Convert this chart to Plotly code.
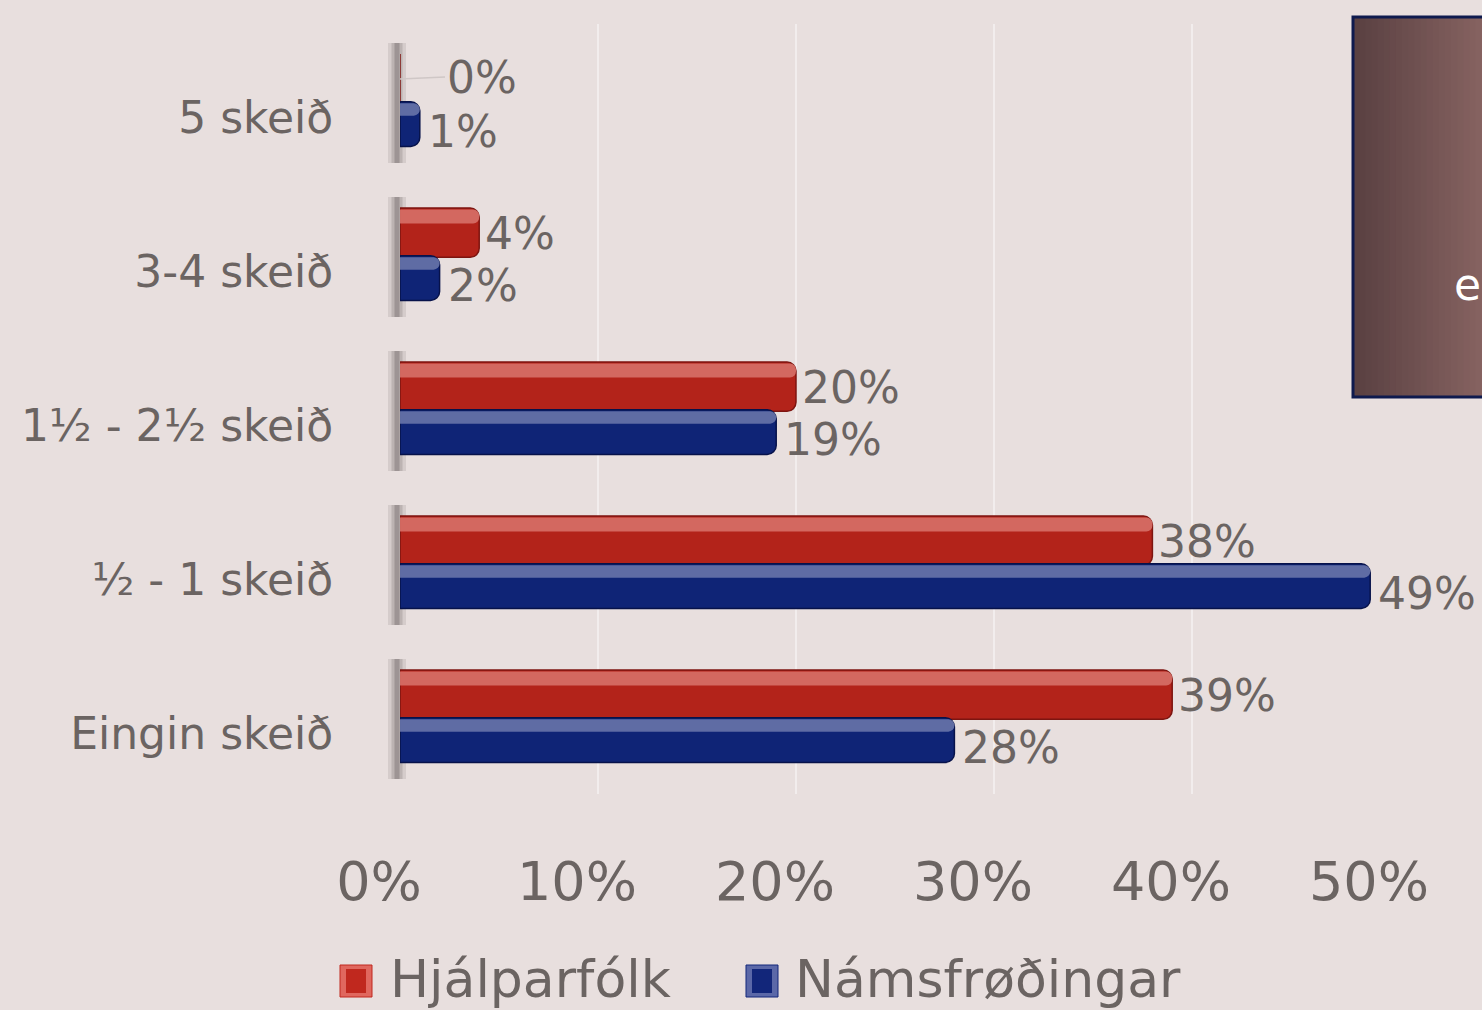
import plotly.graph_objects as go

# ---- data ----
categories = ["5 skeið", "3-4 skeið", "1½ - 2½ skeið", "½ - 1 skeið", "Eingin skeið"]
hjalparfolk = [0, 4, 20, 38, 39]
namsfrodingar = [1, 2, 19, 49, 28]
series_names = ["Hjálparfólk", "Námsfrøðingar"]
x_ticks = [0, 10, 20, 30, 40, 50]
x_tick_labels = ["0%", "10%", "20%", "30%", "40%", "50%"]
box_text = "e"

# ---- style ----
BG = "#e8dfde"
TXT = "#6b6462"
FONT = "DejaVu Sans"
W, H = 1482, 1010
L, R, T, B = 400, 1390, 24, 794


def px(x):
    return (x - L) / (R - L)


def py(y):
    return (B - y) / (B - T)


fig = go.Figure()

# main bars
fig.add_trace(go.Bar(
    y=categories, x=hjalparfolk, orientation="h", name=series_names[0],
    offset=-0.305, width=0.32,
    marker=dict(color="#b3231a", line=dict(color="#7d1510", width=1.5), cornerradius=9),
))
fig.add_trace(go.Bar(
    y=categories, x=namsfrodingar, orientation="h", name=series_names[1],
    offset=0.005, width=0.29,
    marker=dict(color="#0f2476", line=dict(color="#07124a", width=1.5), cornerradius=9),
))
# highlight bands (3D sheen)
fig.add_trace(go.Bar(
    y=categories, x=hjalparfolk, orientation="h", offset=-0.295, width=0.09,
    marker=dict(color="rgba(214,112,104,0.9)", line=dict(width=0), cornerradius=6),
    hoverinfo="skip", showlegend=False,
))
fig.add_trace(go.Bar(
    y=categories, x=namsfrodingar, orientation="h", offset=0.015, width=0.08,
    marker=dict(color="rgba(104,116,170,0.9)", line=dict(width=0), cornerradius=6),
    hoverinfo="skip", showlegend=False,
))

shapes = []
annotations = []

# data labels
LBL = dict(size=44, color=TXT, family=FONT)
for cat, v in zip(categories, hjalparfolk):
    if v == 0:
        annotations.append(dict(x=v, y=cat, xref="x", yref="y", text=f"{v}%",
                                showarrow=True, arrowhead=0, arrowwidth=1.5,
                                arrowcolor="#cfc7c6", ax=45, ay=-2, yshift=22,
                                xanchor="left", yanchor="middle", font=LBL))
    else:
        annotations.append(dict(x=v, y=cat, xref="x", yref="y", text=f"{v}%",
                                showarrow=False, xanchor="left", yanchor="middle",
                                xshift=4, yshift=22, font=LBL))
for cat, v in zip(categories, namsfrodingar):
    annotations.append(dict(x=v, y=cat, xref="x", yref="y", text=f"{v}%",
                            showarrow=False, xanchor="left", yanchor="middle",
                            xshift=6, yshift=-30, font=LBL))

# soft shadow at bar bases
for i in range(len(categories)):
    cy = 101 + 154 * i
    for w, a in [(18, 0.10), (11, 0.15), (5, 0.22)]:
        shapes.append(dict(type="rect", xref="paper", yref="paper",
                           x0=px(397 - w / 2), x1=px(397 + w / 2),
                           y0=py(cy + 62), y1=py(cy - 58),
                           fillcolor=f"rgba(50,40,40,{a})", line=dict(width=0), layer="below"))

# right side box with gradient
bx0, bx1, by0, by1 = 1353, 1500, 17, 397
n = 24
c0 = (0x5a, 0x41, 0x42)
c1 = (0x8c, 0x67, 0x65)
for k in range(n):
    t = k / (n - 1)
    c = tuple(int(a + (b - a) * t) for a, b in zip(c0, c1))
    x0 = bx0 + (bx1 - bx0) * k / n
    x1 = bx0 + (bx1 - bx0) * (k + 1) / n + 1
    shapes.append(dict(type="rect", xref="paper", yref="paper",
                       x0=px(x0), x1=px(x1), y0=py(by1), y1=py(by0),
                       fillcolor="rgb(%d,%d,%d)" % c, line=dict(width=0), layer="above"))
shapes.append(dict(type="rect", xref="paper", yref="paper",
                   x0=px(bx0), x1=px(bx1), y0=py(by1), y1=py(by0),
                   fillcolor="rgba(0,0,0,0)", line=dict(color="#0e1a4e", width=3), layer="above"))
annotations.append(dict(xref="paper", yref="paper", x=px(1452), y=py(285),
                        xanchor="left", yanchor="middle", showarrow=False,
                        text=box_text, font=dict(size=44, color="white", family=FONT)))

# manual legend
leg = [(340, "#c0281e", "#e0675e", series_names[0], 388),
       (746, "#12267a", "#5b68a8", series_names[1], 793)]
for x0, c, c2, name, tx in leg:
    shapes.append(dict(type="rect", xref="paper", yref="paper",
                       x0=px(x0), x1=px(x0 + 32), y0=py(997), y1=py(965),
                       fillcolor=c2, line=dict(color=c, width=1)))
    shapes.append(dict(type="rect", xref="paper", yref="paper",
                       x0=px(x0 + 6), x1=px(x0 + 26), y0=py(993), y1=py(969),
                       fillcolor=c, line=dict(width=0)))
    annotations.append(dict(xref="paper", yref="paper", x=px(tx), y=py(979),
                            xanchor="left", yanchor="middle", showarrow=False,
                            text=name, font=dict(size=52, color=TXT, family=FONT)))

fig.update_layout(
    width=W, height=H,
    margin=dict(l=L, r=W - R, t=T, b=H - B),
    paper_bgcolor=BG, plot_bgcolor=BG,
    barmode="overlay", showlegend=False,
    font=dict(family=FONT, color=TXT),
    shapes=shapes, annotations=annotations,
    xaxis=dict(range=[0, 50], tickvals=x_ticks, ticktext=x_tick_labels,
               showgrid=True, gridcolor="#f2eded", gridwidth=1.5,
               zeroline=False, showline=False,
               ticks="outside", ticklen=40, tickcolor="rgba(0,0,0,0)",
               ticklabelshift=-21,
               tickfont=dict(size=54, color=TXT, family=FONT)),
    yaxis=dict(type="category", categoryorder="array", categoryarray=categories,
               range=[4.5, -0.5], showgrid=False, zeroline=False, showline=False,
               ticks="outside", ticklen=57, tickcolor="rgba(0,0,0,0)",
               ticklabelshift=-17,
               tickfont=dict(size=44, color=TXT, family=FONT)),
)

fig.write_html(
    "out.html",
    config={"displayModeBar": False},
    post_script="document.body.style.margin='0';document.body.style.background='%s';" % BG,
)
